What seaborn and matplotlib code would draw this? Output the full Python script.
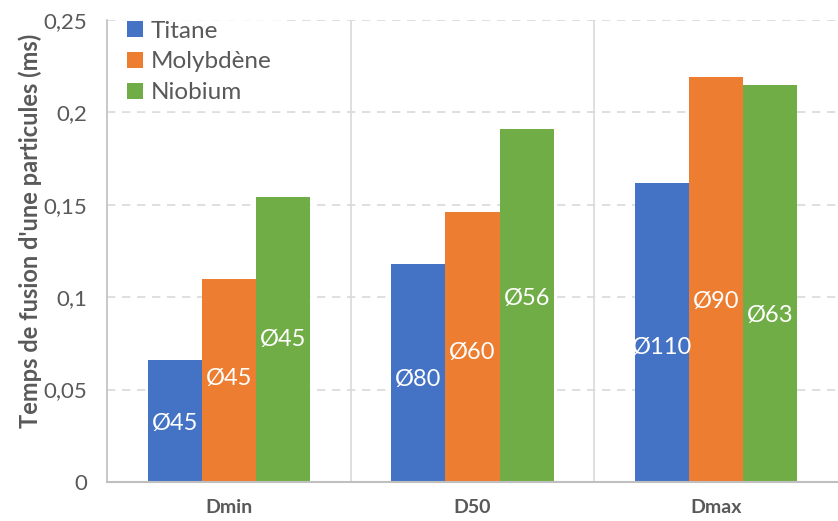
import matplotlib
matplotlib.use("Agg")
import matplotlib.pyplot as plt
import seaborn as sns
import pandas as pd
from matplotlib.patches import Patch
from matplotlib.ticker import FuncFormatter, MultipleLocator

categories = ["Dmin", "D50", "Dmax"]
series = ["Titane", "Molybdène", "Niobium"]
titane = [0.066, 0.118, 0.162]
molybdene = [0.110, 0.146, 0.219]
niobium = [0.154, 0.191, 0.215]
labels_titane = ["Ø45", "Ø80", "Ø110"]
labels_molybdene = ["Ø45", "Ø60", "Ø90"]
labels_niobium = ["Ø45", "Ø56", "Ø63"]
colors = ["#4472C4", "#ED7D31", "#70AD47"]

sns.set_theme(style="white")
plt.rcParams["font.family"] = ["Lato", "DejaVu Sans"]

rows = []
for s, vals in zip(series, [titane, molybdene, niobium]):
    for c, v in zip(categories, vals):
        rows.append({"cat": c, "serie": s, "val": v})
df = pd.DataFrame(rows)

fig = plt.figure(figsize=(8.38, 5.21), dpi=100)
ax = fig.add_axes([0.1277, 0.0749, 0.8723, 0.8867])

sns.barplot(data=df, x="cat", y="val", hue="serie", order=categories,
            hue_order=series, palette=colors, width=0.667, gap=0,
            saturation=1, ax=ax, legend=False, linewidth=0, errorbar=None)

ax.set_ylim(0, 0.25)
ax.set_xlim(-0.5, 2.5)
ax.yaxis.set_major_locator(MultipleLocator(0.05))
ax.yaxis.set_major_formatter(FuncFormatter(
    lambda v, p: "0" if abs(v) < 1e-9 else ("%g" % round(v, 2)).replace(".", ",")))

ax.grid(axis="y", color="#d9d9d9", linestyle=(0, (5, 4)), linewidth=1.2)
ax.set_axisbelow(True)
for xv in [0.5, 1.5]:
    ax.axvline(xv, color="#d9d9d9", linewidth=1.2, zorder=0.5)

for sp in ["top", "right"]:
    ax.spines[sp].set_visible(False)
ax.spines["left"].set_color("#bfbfbf")
ax.spines["left"].set_linewidth(1.2)
ax.spines["bottom"].set_color("#bfbfbf")
ax.spines["bottom"].set_linewidth(1.5)

# label placement (fraction of bar height), as in the original
fracs = [[0.48, 0.47, 0.45], [0.51, 0.48, 0.445], [0.50, 0.52, 0.42]]
for cont, labs, fr in zip(ax.containers, [labels_titane, labels_molybdene, labels_niobium], fracs):
    for patch, lab, f in zip(cont.patches, labs, fr):
        ax.text(patch.get_x() + patch.get_width() / 2, patch.get_height() * f, lab,
                ha="center", va="center", color="white", fontsize=17)

ax.set_xlabel("")
ax.set_ylabel("Temps de fusion d'une particules (ms)", fontsize=17,
              fontweight="bold", color="#595959")
ax.yaxis.set_label_coords(-0.089, 0.543)
ax.tick_params(axis="y", labelsize=16, labelcolor="#595959", length=0, pad=14)
ax.tick_params(axis="x", labelsize=14, labelcolor="#595959", length=0, pad=12)
for t in ax.get_xticklabels():
    t.set_fontweight("bold")

handles = [Patch(facecolor=c, edgecolor="none") for c in colors]
leg = ax.legend(handles, series, loc="upper left", bbox_to_anchor=(0.007, 1.03),
                fontsize=17.5, frameon=True, fancybox=False, handlelength=0.65,
                handleheight=0.65, handletextpad=0.35, labelspacing=0.4,
                borderpad=0.3, borderaxespad=0.3)
leg.get_frame().set_facecolor("white")
leg.get_frame().set_edgecolor("white")
for t in leg.get_texts():
    t.set_color("#595959")

fig.savefig("out.png", dpi=100)
